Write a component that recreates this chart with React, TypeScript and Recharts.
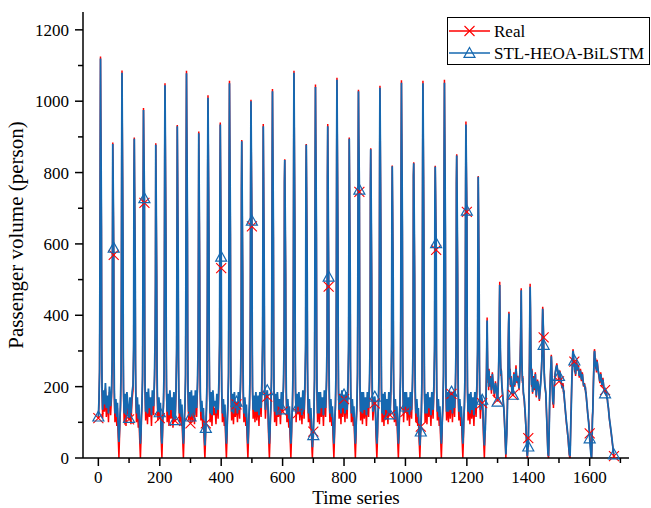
import { LineChart, Line, XAxis, YAxis, Legend, Label } from 'recharts';

const FONT = '"Liberation Serif", "Times New Roman", serif';
const RED = '#FF0000';
const BLUE = '#1668B0';

// one row per day, 70 time steps each
const DAY_STARTS = [
  0, 70, 140, 210, 280, 350, 420, 490, 560, 630, 700, 770,
  840, 910, 980, 1050, 1120, 1190, 1260, 1330, 1400, 1470, 1540, 1610,
];

const DAY_OFFSETS = [
  0, 2, 4, 5, 6, 7, 8, 9, 10, 11,
  12, 14, 17, 20, 23, 26, 30, 33, 36, 40,
  43, 45, 46, 47, 48, 49, 50, 51, 52, 54,
  57, 60, 62, 64, 66, 67, 69,
];

const REAL_BY_DAY = [
  [112, 150, 240, 480, 860, 1125, 960, 800, 640, 300, 185, 110, 175, 130, 195, 115, 160, 100, 185, 120, 170, 260, 560, 884, 780, 680, 569, 290, 170, 100, 150, 90, 140, 75, 25, 0, 60],
  [95, 135, 230, 450, 820, 1086, 930, 780, 620, 290, 175, 100, 160, 90, 170, 125, 108, 150, 95, 165, 190, 300, 785, 898, 760, 640, 520, 250, 165, 100, 150, 85, 130, 65, 20, 0, 55],
  [100, 140, 220, 420, 760, 981, 880, 800, 715, 340, 190, 105, 165, 95, 175, 115, 150, 90, 170, 120, 220, 330, 480, 882, 750, 630, 500, 240, 165, 105, 155, 112, 135, 70, 20, 0, 60],
  [105, 145, 230, 470, 840, 1050, 900, 760, 610, 300, 180, 100, 160, 90, 170, 110, 150, 85, 165, 104, 185, 290, 570, 933, 800, 660, 520, 260, 165, 100, 145, 90, 125, 65, 20, 0, 55],
  [100, 140, 225, 460, 850, 1085, 930, 790, 630, 300, 175, 105, 165, 97, 170, 100, 155, 95, 175, 115, 200, 300, 600, 915, 790, 650, 510, 250, 165, 105, 140, 85, 120, 60, 15, 0, 50],
  [97, 140, 220, 440, 800, 1017, 880, 760, 620, 300, 185, 100, 165, 90, 175, 120, 140, 95, 160, 110, 210, 320, 760, 940, 800, 660, 532, 250, 165, 100, 145, 90, 130, 65, 20, 0, 55],
  [100, 145, 230, 470, 830, 1057, 900, 770, 620, 290, 175, 105, 160, 95, 165, 115, 150, 100, 170, 110, 200, 310, 750, 891, 760, 640, 510, 250, 165, 100, 150, 90, 125, 65, 20, 0, 55],
  [100, 140, 220, 430, 780, 1004, 860, 760, 649, 320, 185, 110, 160, 100, 170, 105, 155, 90, 170, 115, 210, 320, 620, 936, 800, 660, 520, 260, 175, 110, 160, 172, 140, 70, 20, 0, 55],
  [100, 140, 225, 460, 820, 1034, 890, 760, 610, 300, 180, 100, 160, 90, 170, 115, 145, 95, 165, 130, 200, 300, 775, 837, 720, 610, 500, 250, 165, 100, 145, 85, 125, 65, 20, 0, 55],
  [100, 140, 230, 470, 850, 1085, 930, 780, 630, 300, 180, 100, 165, 126, 170, 105, 150, 95, 175, 110, 200, 300, 780, 880, 760, 640, 510, 250, 165, 100, 145, 85, 120, 60, 15, 0, 50],
  [74, 130, 220, 450, 820, 1047, 900, 770, 620, 300, 175, 100, 165, 95, 170, 115, 150, 90, 170, 115, 205, 310, 788, 936, 780, 620, 480, 240, 165, 100, 145, 90, 125, 65, 20, 0, 55],
  [100, 140, 230, 470, 840, 1066, 910, 780, 630, 300, 180, 110, 165, 95, 175, 115, 165, 100, 170, 110, 200, 300, 620, 898, 770, 640, 510, 250, 165, 100, 150, 90, 125, 65, 20, 0, 55],
  [100, 140, 230, 460, 830, 1032, 900, 820, 746, 350, 190, 105, 165, 95, 170, 110, 150, 90, 165, 115, 200, 300, 765, 868, 750, 630, 500, 250, 165, 105, 145, 153, 130, 65, 20, 0, 55],
  [100, 140, 225, 460, 830, 1043, 900, 770, 620, 300, 175, 100, 160, 90, 170, 110, 145, 95, 170, 120, 195, 300, 700, 820, 710, 600, 490, 250, 165, 100, 145, 90, 125, 65, 20, 0, 55],
  [100, 140, 230, 470, 840, 1059, 910, 780, 630, 300, 180, 100, 165, 129, 170, 105, 150, 90, 170, 110, 200, 300, 793, 829, 720, 610, 500, 250, 165, 100, 145, 90, 120, 60, 20, 0, 55],
  [88, 135, 225, 460, 830, 1057, 905, 780, 630, 300, 175, 100, 160, 95, 170, 115, 150, 90, 170, 110, 195, 300, 714, 819, 740, 660, 583, 280, 170, 105, 145, 90, 125, 65, 20, 0, 55],
  [100, 140, 230, 470, 840, 1060, 910, 780, 630, 300, 180, 105, 165, 100, 175, 110, 180, 100, 170, 115, 200, 300, 770, 851, 740, 620, 500, 250, 165, 105, 150, 90, 125, 65, 20, 0, 55],
  [100, 140, 220, 430, 760, 943, 840, 760, 690, 330, 185, 105, 165, 95, 170, 110, 150, 90, 170, 115, 195, 290, 560, 790, 680, 560, 450, 240, 170, 110, 160, 154, 125, 60, 20, 0, 55],
  [90, 160, 250, 330, 394, 300, 240, 210, 230, 190, 250, 200, 230, 180, 240, 200, 170, 215, 190, 163, 230, 330, 420, 494, 380, 300, 260, 230, 250, 200, 170, 140, 110, 70, 25, 0, 50],
  [70, 150, 240, 330, 380, 410, 320, 260, 220, 250, 200, 230, 180, 177, 240, 200, 260, 210, 230, 190, 250, 340, 400, 476, 360, 280, 240, 210, 230, 180, 160, 120, 90, 50, 10, 0, 40],
  [56, 150, 280, 400, 488, 420, 330, 260, 230, 200, 250, 180, 230, 190, 240, 170, 220, 200, 160, 210, 250, 300, 380, 424, 400, 370, 338, 280, 240, 200, 180, 110, 60, 10, 0, 30, 130],
  [180, 230, 270, 289, 265, 230, 200, 175, 150, 170, 140, 190, 235, 250, 265, 240, 215, 245, 220, 195, 210, 180, 190, 170, 160, 150, 140, 130, 120, 100, 75, 50, 25, 5, 0, 40, 120],
  [150, 225, 275, 298, 305, 290, 272, 255, 270, 240, 265, 230, 275, 245, 260, 225, 250, 215, 240, 200, 210, 190, 200, 180, 185, 170, 160, 150, 140, 120, 100, 69, 40, 15, 0, 30, 120],
  [130, 210, 270, 300, 305, 285, 262, 280, 250, 270, 240, 275, 250, 230, 210, 240, 200, 225, 195, 190, 175, 185, 165, 170, 160, 150, 145, 140, 130, 110, 90, 70, 55, 40, 25, 15, 5],
];

const PRED_BY_DAY = [
  [116, 160, 250, 470, 850, 1120, 950, 810, 650, 320, 200, 135, 190, 150, 210, 140, 175, 125, 200, 145, 185, 280, 580, 880, 790, 690, 589, 310, 190, 125, 165, 115, 155, 100, 60, 45, 80],
  [110, 150, 240, 460, 830, 1080, 920, 790, 630, 310, 195, 125, 180, 120, 185, 150, 112, 170, 125, 185, 205, 320, 780, 895, 770, 650, 530, 270, 185, 125, 170, 110, 150, 95, 55, 40, 75],
  [115, 150, 235, 430, 770, 975, 885, 810, 728, 360, 205, 130, 185, 125, 195, 140, 170, 120, 190, 145, 235, 350, 500, 878, 760, 640, 510, 260, 185, 130, 170, 128, 155, 95, 50, 40, 80],
  [115, 155, 240, 480, 830, 1045, 905, 770, 620, 320, 200, 130, 180, 120, 190, 135, 170, 115, 185, 106, 200, 310, 575, 930, 805, 670, 530, 280, 185, 125, 165, 115, 150, 95, 55, 40, 75],
  [110, 150, 235, 470, 840, 1078, 925, 800, 640, 320, 195, 130, 185, 116, 190, 125, 175, 120, 190, 140, 215, 320, 610, 910, 795, 660, 520, 270, 185, 130, 160, 110, 140, 90, 50, 35, 70],
  [84, 135, 225, 450, 810, 1010, 885, 770, 630, 320, 200, 125, 185, 120, 190, 145, 160, 125, 180, 135, 225, 340, 765, 935, 810, 680, 564, 275, 185, 125, 165, 115, 150, 95, 55, 40, 75],
  [110, 155, 240, 480, 840, 1050, 905, 780, 630, 310, 195, 130, 180, 125, 185, 140, 158, 125, 185, 135, 215, 330, 755, 888, 770, 650, 520, 270, 185, 125, 170, 115, 150, 95, 55, 40, 75],
  [110, 150, 230, 440, 790, 1000, 870, 770, 665, 340, 200, 135, 175, 130, 185, 130, 175, 120, 185, 140, 225, 340, 630, 930, 805, 670, 530, 280, 190, 135, 175, 190, 160, 95, 55, 40, 75],
  [110, 150, 235, 470, 830, 1028, 895, 770, 620, 320, 195, 130, 180, 120, 185, 140, 165, 120, 185, 136, 215, 320, 770, 835, 730, 620, 510, 270, 185, 125, 165, 110, 145, 95, 55, 40, 75],
  [110, 150, 240, 480, 845, 1080, 925, 790, 640, 320, 195, 125, 180, 144, 185, 130, 170, 120, 190, 135, 215, 320, 775, 878, 770, 650, 520, 270, 185, 125, 165, 110, 140, 90, 50, 30, 65],
  [64, 125, 225, 460, 830, 1040, 905, 780, 630, 320, 195, 125, 185, 125, 185, 140, 170, 120, 190, 140, 220, 330, 785, 930, 790, 640, 508, 265, 185, 125, 165, 115, 145, 95, 55, 40, 75],
  [110, 150, 240, 480, 845, 1060, 915, 790, 640, 320, 195, 135, 180, 125, 190, 140, 178, 125, 185, 135, 215, 320, 630, 895, 780, 650, 520, 270, 185, 125, 165, 115, 145, 95, 55, 40, 75],
  [110, 150, 240, 470, 840, 1028, 905, 830, 752, 370, 205, 130, 185, 125, 185, 135, 170, 120, 185, 140, 215, 320, 765, 865, 760, 640, 510, 270, 185, 130, 165, 172, 150, 95, 55, 40, 75],
  [110, 150, 235, 470, 840, 1038, 905, 780, 630, 320, 195, 125, 180, 120, 185, 135, 165, 120, 185, 122, 210, 320, 705, 818, 720, 610, 500, 270, 185, 125, 165, 115, 145, 95, 55, 40, 75],
  [110, 150, 240, 480, 845, 1052, 915, 790, 640, 320, 195, 125, 185, 144, 185, 130, 170, 120, 185, 135, 215, 320, 790, 826, 730, 620, 510, 270, 185, 125, 165, 115, 140, 90, 50, 35, 70],
  [74, 130, 230, 470, 840, 1050, 910, 790, 640, 320, 195, 125, 180, 125, 185, 140, 170, 120, 185, 135, 210, 320, 720, 816, 750, 670, 602, 300, 190, 130, 165, 115, 145, 95, 55, 40, 75],
  [110, 150, 240, 480, 845, 1052, 915, 790, 640, 320, 195, 130, 185, 130, 190, 135, 186, 125, 185, 140, 215, 320, 770, 848, 750, 630, 510, 270, 185, 130, 165, 115, 145, 95, 55, 40, 75],
  [110, 150, 230, 440, 770, 935, 845, 770, 693, 350, 200, 130, 180, 125, 185, 135, 170, 120, 185, 140, 210, 310, 570, 788, 690, 570, 460, 260, 185, 135, 175, 163, 145, 90, 50, 35, 70],
  [80, 150, 240, 320, 385, 310, 250, 220, 235, 200, 245, 210, 225, 190, 235, 205, 180, 210, 195, 158, 225, 320, 410, 485, 385, 305, 265, 235, 245, 205, 175, 145, 115, 75, 30, 10, 50],
  [65, 140, 230, 320, 375, 405, 325, 265, 225, 245, 205, 225, 185, 177, 235, 205, 250, 215, 225, 195, 245, 330, 395, 470, 365, 285, 245, 215, 225, 185, 165, 125, 95, 55, 15, 5, 30],
  [32, 140, 270, 390, 480, 425, 335, 265, 235, 205, 245, 185, 225, 195, 235, 175, 215, 205, 165, 205, 245, 290, 370, 418, 395, 360, 317, 275, 235, 205, 185, 115, 65, 15, 5, 35, 125],
  [170, 225, 265, 285, 268, 235, 205, 180, 158, 172, 150, 192, 230, 252, 260, 242, 230, 240, 222, 198, 205, 185, 188, 172, 162, 152, 142, 132, 122, 104, 80, 55, 30, 10, 5, 35, 115],
  [145, 220, 270, 295, 300, 292, 275, 258, 273, 245, 260, 235, 270, 248, 255, 230, 245, 220, 235, 205, 205, 195, 195, 185, 180, 172, 162, 152, 142, 122, 95, 55, 30, 10, 0, 25, 110],
  [125, 200, 265, 295, 300, 288, 265, 275, 255, 265, 245, 270, 248, 232, 215, 235, 205, 220, 198, 181, 178, 182, 168, 168, 162, 152, 147, 140, 130, 112, 92, 72, 58, 42, 28, 18, 10],
];

const X_TICKS = [0, 100, 200, 300, 400, 500, 600, 700, 800, 900, 1000, 1100, 1200, 1300, 1400, 1500, 1600, 1700];
const Y_TICKS = [0, 100, 200, 300, 400, 500, 600, 700, 800, 900, 1000, 1100, 1200];
const MARKER_EVERY = 50;

const rows = DAY_STARTS.flatMap((start, d) =>
  DAY_OFFSETS.map((off, i) => ({
    t: start + off,
    real: REAL_BY_DAY[d][i],
    pred: PRED_BY_DAY[d][i],
  })),
);
const LAST_T = rows[rows.length - 1].t;

const isMarked = (t: number) => t % MARKER_EVERY === 0 || t === LAST_T;

const crossPath = (cx: number, cy: number, s = 5) =>
  `M${cx - s},${cy - s}L${cx + s},${cy + s}M${cx - s},${cy + s}L${cx + s},${cy - s}`;
const trianglePath = (cx: number, cy: number, r = 5.5) =>
  `M${cx},${cy - r}L${cx + r},${cy + r * 0.8}L${cx - r},${cy + r * 0.8}Z`;

function CrossDot(props: any) {
  const { cx, cy, payload, index } = props;
  if (!isMarked(payload.t)) return <g key={`rx-${index}`} />;
  return <path key={`rx-${index}`} d={crossPath(cx, cy)} stroke={RED} strokeWidth={1.1} fill="none" />;
}

function TriangleDot(props: any) {
  const { cx, cy, payload, index } = props;
  if (!isMarked(payload.t)) return <g key={`pt-${index}`} />;
  return <path key={`pt-${index}`} d={trianglePath(cx, cy)} stroke={BLUE} strokeWidth={1.2} fill="none" />;
}

function XTick({ x, y, payload }: any) {
  const major = payload.value % 200 === 0;
  return (
    <g>
      <line x1={x} x2={x} y1={y} y2={y + (major ? 8 : 5)} stroke="#000" strokeWidth={1.5} />
      {major && (
        <text x={x} y={y + 25} textAnchor="middle" fontSize={17} fontFamily={FONT} fill="#000">
          {payload.value}
        </text>
      )}
    </g>
  );
}

function YTick({ x, y, payload }: any) {
  const major = payload.value % 200 === 0;
  return (
    <g>
      <line x1={x - (major ? 8 : 5)} x2={x} y1={y} y2={y} stroke="#000" strokeWidth={1.5} />
      {major && (
        <text x={x - 14} y={y + 6} textAnchor="end" fontSize={17} fontFamily={FONT} fill="#000">
          {payload.value}
        </text>
      )}
    </g>
  );
}

function LegendBox() {
  return (
    <svg width={203} height={48} style={{ display: 'block' }}>
      <rect x={0.5} y={0.5} width={202} height={47} fill="#fff" stroke="#000" strokeWidth={1} />
      <line x1={2} x2={43} y1={14} y2={14} stroke={RED} strokeWidth={1.5} />
      <path d={crossPath(22.5, 14)} stroke={RED} strokeWidth={1.1} fill="none" />
      <text x={47} y={20} fontSize={17} fontFamily={FONT} fill="#000">Real</text>
      <line x1={2} x2={43} y1={36} y2={36} stroke={BLUE} strokeWidth={1.5} />
      <path d={trianglePath(22.5, 36)} stroke={BLUE} strokeWidth={1.2} fill="none" />
      <text x={47} y={42} fontSize={17} fontFamily={FONT} fill="#000">STL-HEOA-BiLSTM</text>
    </svg>
  );
}

export default function App() {
  return (
    <div style={{ position: 'absolute', left: 0, top: 0, background: '#fff' }}>
      <LineChart width={651} height={508} data={rows} margin={{ top: 12, right: 22, bottom: 0, left: 0 }}>
        <XAxis
          type="number"
          dataKey="t"
          domain={[-50, 1728]}
          ticks={X_TICKS}
          interval={0}
          height={50}
          tickSize={0}
          tickMargin={0}
          tickLine={false}
          tick={<XTick />}
          axisLine={{ stroke: '#000', strokeWidth: 1.5 }}
        >
          <Label
            content={({ viewBox }: any) => (
              <text
                x={viewBox.x + viewBox.width / 2}
                y={viewBox.y + 45.8}
                textAnchor="middle"
                fontSize={19}
                fontFamily={FONT}
                fill="#000"
              >
                Time series
              </text>
            )}
          />
        </XAxis>
        <YAxis
          type="number"
          domain={[0, 1250]}
          ticks={Y_TICKS}
          interval={0}
          width={83}
          tickSize={0}
          tickMargin={0}
          tickLine={false}
          tick={<YTick />}
          axisLine={{ stroke: '#000', strokeWidth: 1.5 }}
        >
          <Label
            content={({ viewBox }: any) => {
              const cx = 23;
              const cy = viewBox.y + viewBox.height / 2;
              return (
                <text
                  x={cx}
                  y={cy}
                  transform={`rotate(-90 ${cx} ${cy})`}
                  textAnchor="middle"
                  fontSize={21}
                  fontFamily={FONT}
                  fill="#000"
                >
                  Passenger volume (person)
                </text>
              );
            }}
          />
        </YAxis>
        <Legend
          layout="horizontal"
          verticalAlign="middle"
          align="center"
          content={<LegendBox />}
          wrapperStyle={{ left: 447, top: 17, width: 203, height: 48 }}
        />
        <Line
          dataKey="real"
          stroke={RED}
          strokeWidth={1.5}
          dot={CrossDot}
          activeDot={false}
          isAnimationActive={false}
          legendType="none"
        />
        <Line
          dataKey="pred"
          stroke={BLUE}
          strokeWidth={1.8}
          dot={TriangleDot}
          activeDot={false}
          isAnimationActive={false}
          legendType="none"
        />
      </LineChart>
    </div>
  );
}
